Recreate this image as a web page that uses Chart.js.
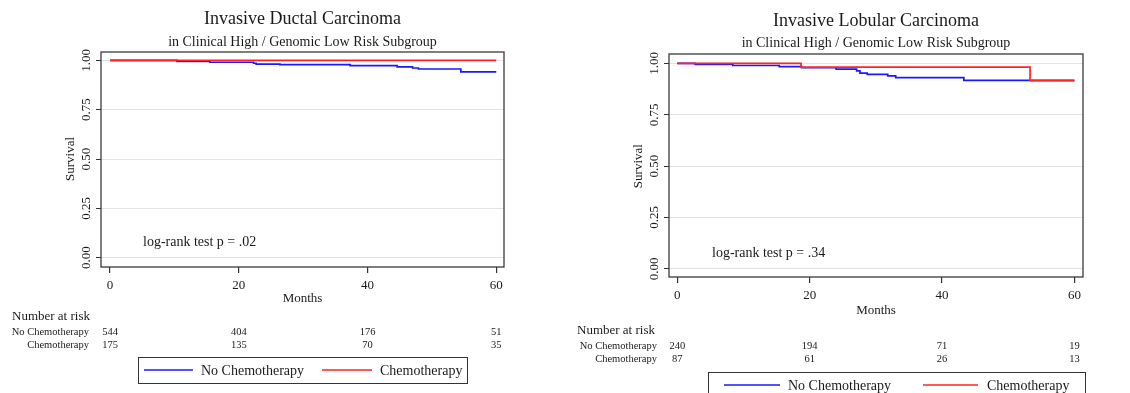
<!DOCTYPE html>
<html>
<head>
<meta charset="utf-8">
<script src="https://cdn.jsdelivr.net/npm/chart.js@4/dist/chart.umd.min.js"></script>
<style>
html, body { margin: 0; padding: 0; background: #fff; }
#wrap { position: relative; width: 1130px; height: 393px; overflow: hidden; }
#wrap canvas { position: absolute; top: 0; }
</style>
</head>
<body>
<div id="wrap">
  <canvas id="idc" width="565" height="393" style="left:0"></canvas>
  <canvas id="ilc" width="565" height="393" style="left:565px"></canvas>
</div>
<script>
const seriesLabels = ['No Chemotherapy', 'Chemotherapy'];
const xTicks = [0, 20, 40, 60];
const yTicks = [0, 0.25, 0.5, 0.75, 1];

// invasive ductal
const idcNoChemoMonths = [0, 10.4, 15.5, 22.3, 22.7, 26.4, 37.3, 44.6, 47.0, 47.9, 54.5, 60];
const idcNoChemoSurv = [1, 0.994, 0.990, 0.985, 0.981, 0.978, 0.973, 0.967, 0.961, 0.956, 0.941, 0.941];
const idcChemoMonths = [0, 60];
const idcChemoSurv = [1, 1];
const idcAtRiskNoChemo = [544, 404, 176, 51];
const idcAtRiskChemo = [175, 135, 70, 35];

// invasive lobular
const ilcNoChemoMonths = [0, 2.7, 8.4, 15.4, 18.8, 24.0, 27.1, 27.6, 28.7, 31.8, 33.0, 43.3, 60];
const ilcNoChemoSurv = [1, 0.995, 0.990, 0.985, 0.979, 0.972, 0.964, 0.953, 0.947, 0.939, 0.931, 0.918, 0.918];
const ilcChemoMonths = [0, 18.7, 53.3, 60];
const ilcChemoSurv = [1, 0.982, 0.916, 0.916];
const ilcAtRiskNoChemo = [240, 194, 71, 19];
const ilcAtRiskChemo = [87, 61, 26, 13];

const serif = '"Liberation Serif", "Times New Roman", serif';
const ink = '#1a1a1a';
const blue = 'rgb(25,25,255)';
const red = 'rgb(255,35,35)';

const kmPoints = (months, surv) => months.map((m, i) => ({ x: m, y: surv[i] }));

// titles, rotated y labels, risk table, legend box
const panelPlugin = {
    id: 'panel',
    afterDraw(chart, args, o) {
        const { ctx, chartArea: a, scales: { x, y } } = chart;
        const cx = (a.left + a.right) / 2;
        ctx.save();
        ctx.strokeStyle = '#3a3a3a';
        ctx.lineWidth = 1.3;
        ctx.strokeRect(a.left, a.top, a.right - a.left, a.bottom - a.top);

        ctx.fillStyle = ink;
        ctx.textAlign = 'center';
        ctx.textBaseline = 'middle';
        ctx.font = '18px ' + serif;
        ctx.fillText(o.title, cx, o.titleY);
        ctx.font = '14px ' + serif;
        ctx.fillText(o.subtitle, cx, o.subtitleY);

        ctx.font = '13px ' + serif;
        y.ticks.forEach((t) => {
            ctx.save();
            ctx.translate(a.left - 14, y.getPixelForValue(t.value));
            ctx.rotate(-Math.PI / 2);
            ctx.fillText(t.value.toFixed(2), 0, 0);
            ctx.restore();
        });
        ctx.save();
        ctx.translate(a.left - 30, (y.getPixelForValue(0) + y.getPixelForValue(1)) / 2);
        ctx.rotate(-Math.PI / 2);
        ctx.fillText('Survival', 0, 0);
        ctx.restore();

        ctx.fillText('Months', cx, a.bottom + o.monthsDy);

        ctx.textAlign = 'left';
        ctx.font = '14px ' + serif;
        ctx.fillText(o.logrank, o.logrankX, a.bottom + o.logrankDy);

        ctx.font = '13px ' + serif;
        ctx.fillText('Number at risk', 12, a.bottom + o.riskDy[0]);
        ctx.font = '10.5px ' + serif;
        o.risk.forEach((row, r) => {
            const ry = a.bottom + o.riskDy[r + 1];
            ctx.textAlign = 'right';
            ctx.fillText(seriesLabels[r], o.riskLabelX, ry);
            ctx.textAlign = 'center';
            row.forEach((n, i) => ctx.fillText(String(n), x.getPixelForValue(xTicks[i]), ry));
        });

        const L = o.legend;
        ctx.strokeStyle = '#333';
        ctx.lineWidth = 1;
        ctx.strokeRect(L.x0 + 0.5, L.y0 + 0.5, L.x1 - L.x0, L.y1 - L.y0);
        ctx.font = '14px ' + serif;
        ctx.textAlign = 'left';
        chart.data.datasets.forEach((ds, i) => {
            const it = L.items[i];
            ctx.strokeStyle = ds.borderColor;
            ctx.lineWidth = 1.5;
            ctx.beginPath();
            ctx.moveTo(it[0], L.ty);
            ctx.lineTo(it[1], L.ty);
            ctx.stroke();
            ctx.fillText(ds.label, it[2], L.ty + 1);
        });
        ctx.restore();
    },
};

const makeChart = (id, noMonths, noSurv, chMonths, chSurv, p) => new Chart(document.getElementById(id), {
    type: 'line',
    data: {
        datasets: [
            { label: seriesLabels[0], data: kmPoints(noMonths, noSurv), borderColor: blue, order: 1 },
            { label: seriesLabels[1], data: kmPoints(chMonths, chSurv), borderColor: red, order: 0 },
        ],
    },
    options: {
        responsive: false,
        animation: false,
        devicePixelRatio: 1,
        layout: { padding: { left: 0, right: p.padRight, top: p.padTop, bottom: 0 } },
        elements: {
            line: { borderWidth: 1.7, stepped: 'before', tension: 0, fill: false },
            point: { radius: 0, hoverRadius: 0 },
        },
        plugins: {
            legend: { display: false },
            tooltip: { enabled: false },
            panel: p.panel,
        },
        scales: {
            x: {
                type: 'linear',
                min: p.xMin,
                max: p.xMax,
                afterBuildTicks: (s) => { s.ticks = xTicks.map((v) => ({ value: v })); },
                afterFit: (s) => { s.height = p.xHeight; },
                grid: { drawOnChartArea: false, drawTicks: true, tickLength: 6, tickColor: '#333', lineWidth: 1.2 },
                border: { display: false },
                ticks: { font: { family: serif, size: 13 }, color: ink, padding: 5, maxRotation: 0 },
            },
            y: {
                min: p.yMin,
                max: p.yMax,
                afterBuildTicks: (s) => { s.ticks = yTicks.map((v) => ({ value: v })); },
                afterFit: (s) => { s.width = p.yWidth; },
                grid: { color: '#e3e3e3', lineWidth: 1, drawTicks: true, tickLength: 5, tickColor: '#333' },
                border: { display: false },
                ticks: { display: false },
            },
        },
    },
    plugins: [panelPlugin],
});

makeChart('idc', idcNoChemoMonths, idcNoChemoSurv, idcChemoMonths, idcChemoSurv, {
    padRight: 61, padTop: 52, xHeight: 126, yWidth: 101,
    xMin: -1.4, xMax: 61.2, yMin: -0.047, yMax: 1.042,
    panel: {
        title: 'Invasive Ductal Carcinoma',
        subtitle: 'in Clinical High / Genomic Low Risk Subgroup',
        titleY: 19, subtitleY: 42,
        monthsDy: 32, logrank: 'log-rank test p = .02', logrankX: 143, logrankDy: -25,
        riskDy: [50, 65, 78], riskLabelX: 89,
        risk: [idcAtRiskNoChemo, idcAtRiskChemo],
        legend: { x0: 138, y0: 357, x1: 467, y1: 383, ty: 370, items: [[144, 193, 201], [322, 372, 380]] },
    },
});

makeChart('ilc', ilcNoChemoMonths, ilcNoChemoSurv, ilcChemoMonths, ilcChemoSurv, {
    padRight: 47, padTop: 54, xHeight: 116, yWidth: 104,
    xMin: -1.25, xMax: 61.3, yMin: -0.040, yMax: 1.046,
    panel: {
        title: 'Invasive Lobular Carcinoma',
        subtitle: 'in Clinical High / Genomic Low Risk Subgroup',
        titleY: 21, subtitleY: 43,
        monthsDy: 34, logrank: 'log-rank test p = .34', logrankX: 147, logrankDy: -24,
        riskDy: [54, 69, 82], riskLabelX: 92,
        risk: [ilcAtRiskNoChemo, ilcAtRiskChemo],
        legend: { x0: 143, y0: 372, x1: 520, y1: 400, ty: 385, items: [[159, 215, 223], [358, 413, 422]] },
    },
});
</script>
</body>
</html>
